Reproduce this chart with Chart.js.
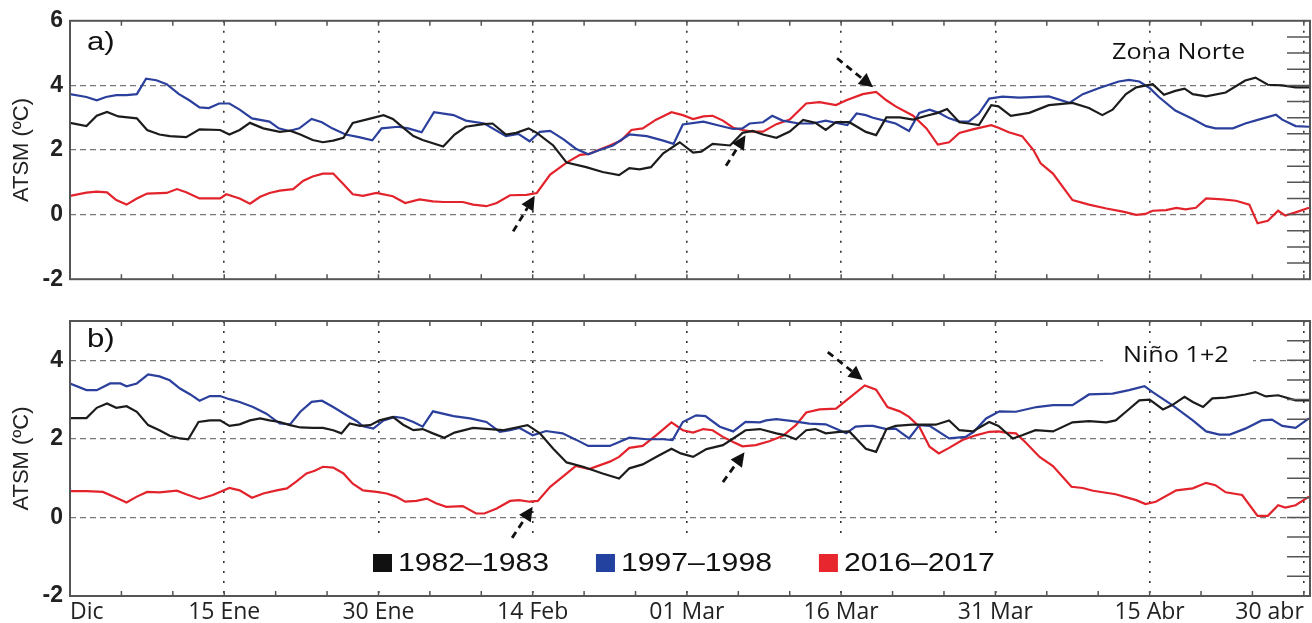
<!DOCTYPE html>
<html>
<head>
<meta charset="utf-8">
<script src="https://cdn.jsdelivr.net/npm/chart.js@4"></script>
<style>
  body { margin: 0; background: #fff; overflow: hidden; }
  canvas { position: absolute; left: 0; }
  #chartNorte { top: 0; }
  #chartNino { top: 300px; }
</style>
</head>
<body>
<canvas id="chartNorte" width="1312" height="300"></canvas>
<canvas id="chartNino" width="1312" height="323"></canvas>
<script>
// Days since start of the window (Dic) and their labels
const tickDays = [0, 15, 30, 45, 60, 75, 90, 105, 120];
const tickLabels = ["Dic", "15 Ene", "30 Ene", "14 Feb", "01 Mar", "16 Mar", "31 Mar", "15 Abr", "30 abr"];
const X_MAX = 120.6;

const seriesNames = ["1982–1983", "1997–1998", "2016–2017"];
const seriesColors = ["#1c1c1c", "#2b3f9c", "#e3232b"];
const legendColors = ["#111111", "#2342a0", "#e8262e"];

const yTicksNorte = [-2, 0, 2, 4, 6];
const yTicksNino = [-2, 0, 2, 4];

// [day, ATSM] read off panel a) Zona Norte
const norte8283 = [[0,2.84],[1.6,2.74],[2.6,3.06],[3.6,3.18],[4.7,3.04],[6.5,2.98],[7.5,2.62],[8.7,2.48],[9.7,2.43],[11.3,2.40],[12.6,2.64],[14.6,2.62],[15.5,2.48],[16.5,2.62],[17.5,2.84],[18.8,2.67],[20.4,2.56],[21.4,2.6],[22.4,2.48],[23.6,2.31],[24.6,2.24],[25.6,2.29],[26.6,2.38],[27.5,2.84],[28.8,2.94],[30.5,3.08],[31.4,2.96],[32.4,2.69],[33.4,2.43],[34.3,2.31],[36.3,2.11],[37.4,2.48],[38.5,2.72],[40.2,2.8],[41.1,2.82],[42.4,2.48],[43.4,2.53],[44.6,2.67],[45.4,2.53],[47.0,2.14],[48.3,1.61],[50.2,1.47],[51.8,1.32],[53.4,1.22],[54.4,1.44],[55.4,1.4],[56.5,1.47],[57.7,1.9],[59.3,2.24],[60.6,1.92],[61.4,1.95],[62.5,2.19],[64.2,2.14],[65.4,2.53],[66.4,2.59],[67.4,2.48],[68.7,2.38],[70.0,2.57],[71.3,2.93],[72.5,2.84],[73.5,2.62],[74.5,2.86],[75.8,2.86],[77.4,2.56],[78.4,2.46],[79.4,3.01],[80.7,3.01],[82.0,2.94],[83.3,3.06],[84.4,3.15],[85.3,3.27],[86.5,2.86],[87.4,2.82],[88.4,2.77],[89.6,3.39],[90.3,3.35],[91.5,3.06],[93.3,3.15],[95.2,3.39],[97.5,3.46],[99.1,3.3],[100.4,3.08],[101.4,3.25],[102.7,3.73],[103.7,3.94],[105.3,4.04],[106.4,3.71],[107.5,3.83],[108.4,3.9],[109.2,3.73],[110.5,3.66],[112.4,3.78],[114.3,4.15],[115.3,4.24],[116.5,4.02],[117.9,4.0],[119.2,3.94],[120.5,3.94]];
const norte9798 = [[0,3.73],[1.6,3.64],[2.6,3.54],[3.5,3.64],[4.5,3.7],[5.5,3.7],[6.5,3.73],[7.4,4.21],[8.4,4.16],[9.4,4.04],[10.6,3.73],[11.6,3.54],[12.6,3.32],[13.5,3.3],[14.5,3.44],[15.5,3.44],[16.5,3.25],[17.7,2.98],[19.4,2.88],[20.3,2.67],[21.3,2.59],[22.3,2.67],[23.5,2.96],[24.5,2.86],[25.5,2.67],[26.8,2.48],[28.1,2.4],[29.4,2.3],[30.3,2.67],[31.9,2.72],[32.9,2.67],[34.2,2.55],[35.4,3.17],[37.3,3.08],[38.5,2.91],[40.3,2.82],[42.4,2.43],[43.6,2.5],[44.7,2.27],[45.7,2.56],[46.7,2.59],[48.0,2.33],[49.2,2.04],[50.4,1.87],[51.5,2.0],[52.8,2.14],[54.4,2.48],[56.1,2.43],[57.7,2.29],[58.7,2.19],[59.6,2.79],[61.6,2.88],[63.2,2.75],[64.5,2.65],[65.4,2.67],[66.1,2.82],[67.4,2.86],[68.3,3.06],[69.3,2.91],[70.9,2.82],[72.2,2.82],[73.5,2.91],[74.8,2.82],[75.6,2.77],[76.5,3.13],[77.4,3.08],[78.1,3.0],[79.2,2.91],[80.3,2.82],[81.6,2.59],[82.6,3.15],[83.6,3.25],[84.5,3.15],[85.5,2.98],[86.5,2.88],[87.4,2.88],[88.4,3.13],[89.4,3.59],[90.7,3.65],[92.3,3.62],[95.2,3.66],[97.2,3.46],[98.5,3.73],[100.1,3.92],[102.0,4.12],[103.0,4.17],[104.0,4.12],[105.0,3.92],[105.9,3.64],[107.5,3.22],[109.2,2.96],[110.5,2.74],[111.4,2.67],[113.1,2.67],[114.3,2.82],[115.6,2.94],[117.3,3.09],[117.9,2.94],[119.2,2.74],[120.5,2.72]];
const norte1617 = [[0,0.58],[1.6,0.68],[2.6,0.71],[3.6,0.69],[4.5,0.45],[5.5,0.31],[6.5,0.5],[7.5,0.65],[9.4,0.67],[10.4,0.79],[11.3,0.69],[12.6,0.5],[14.6,0.5],[15.2,0.63],[16.5,0.5],[17.5,0.34],[18.5,0.55],[19.4,0.67],[20.4,0.74],[21.7,0.79],[22.7,1.05],[23.6,1.18],[24.6,1.27],[25.6,1.27],[26.6,0.94],[27.5,0.63],[28.5,0.58],[29.8,0.67],[31.4,0.57],[32.6,0.36],[34.0,0.47],[35.3,0.41],[36.3,0.39],[38.2,0.39],[39.2,0.31],[40.5,0.26],[41.5,0.36],[42.8,0.6],[44.4,0.61],[45.4,0.67],[46.7,1.24],[48.3,1.61],[49.6,1.85],[50.5,1.88],[52.5,2.14],[53.6,2.29],[54.6,2.62],[55.7,2.67],[57.0,2.94],[58.5,3.17],[59.6,3.08],[60.6,2.96],[61.6,3.04],[62.5,3.06],[63.5,2.91],[64.5,2.69],[65.4,2.62],[66.4,2.57],[67.4,2.57],[68.7,2.8],[70.0,2.94],[71.6,3.44],[72.9,3.48],[74.5,3.39],[75.5,3.54],[77.1,3.73],[78.4,3.8],[79.4,3.54],[80.3,3.35],[82.0,3.06],[83.3,2.67],[84.4,2.17],[85.5,2.24],[86.5,2.53],[87.8,2.64],[89.6,2.77],[90.3,2.69],[91.3,2.55],[92.6,2.43],[93.7,2.0],[94.4,1.59],[95.6,1.27],[97.5,0.45],[99.1,0.31],[100.8,0.19],[102.4,0.09],[103.7,-0.01],[104.6,0.02],[105.3,0.12],[106.6,0.14],[107.6,0.21],[108.5,0.16],[109.5,0.21],[110.5,0.5],[112.1,0.47],[113.4,0.43],[114.7,0.31],[115.5,-0.27],[116.5,-0.19],[117.5,0.12],[118.2,-0.03],[119.2,0.07],[120.5,0.21]];

// [day, ATSM] read off panel b) Niño 1+2
const nino8283 = [[0,2.53],[1.6,2.53],[2.6,2.79],[3.6,2.9],[4.5,2.79],[5.5,2.83],[6.5,2.69],[7.6,2.35],[8.7,2.22],[9.7,2.08],[10.7,2.01],[11.5,1.99],[12.5,2.43],[13.6,2.47],[14.6,2.47],[15.5,2.33],[16.5,2.37],[17.5,2.47],[18.5,2.52],[19.4,2.47],[20.4,2.43],[21.4,2.35],[22.4,2.29],[23.6,2.28],[24.6,2.28],[25.6,2.22],[26.4,2.14],[27.2,2.39],[28.2,2.33],[29.2,2.35],[30.1,2.47],[31.4,2.56],[32.4,2.36],[33.4,2.22],[34.3,2.25],[35.3,2.14],[36.4,2.03],[37.4,2.16],[39.2,2.28],[40.8,2.25],[42.1,2.22],[43.4,2.29],[44.5,2.35],[45.7,2.14],[47.0,1.75],[48.3,1.40],[49.9,1.29],[51.8,1.12],[53.4,0.99],[54.4,1.25],[55.7,1.35],[57.0,1.54],[58.5,1.75],[59.4,1.63],[60.6,1.54],[61.9,1.74],[63.5,1.84],[64.5,2.01],[65.7,2.22],[67.1,2.25],[68.7,2.14],[69.6,2.09],[70.6,1.99],[71.6,2.22],[72.5,2.25],[73.5,2.14],[74.8,2.18],[75.8,2.19],[77.4,1.75],[78.4,1.67],[79.4,2.25],[80.3,2.33],[81.9,2.36],[84.2,2.36],[85.5,2.47],[86.5,2.22],[87.8,2.19],[89.4,2.43],[90.3,2.33],[91.7,2.01],[92.6,2.09],[93.9,2.22],[95.6,2.19],[97.5,2.42],[99.1,2.45],[100.8,2.42],[101.7,2.47],[102.7,2.69],[104.0,2.98],[105.0,3.0],[106.3,2.75],[107.2,2.86],[108.4,3.07],[109.2,2.94],[110.2,2.81],[111.1,3.03],[112.4,3.05],[114.3,3.13],[115.3,3.19],[116.3,3.08],[117.5,3.11],[119.2,2.98],[120.5,2.98]];
const nino9798 = [[0,3.41],[1.6,3.24],[2.6,3.24],[3.9,3.41],[4.9,3.41],[5.5,3.34],[6.5,3.41],[7.6,3.64],[8.7,3.59],[9.7,3.49],[10.7,3.28],[11.7,3.13],[12.6,2.97],[13.6,3.09],[14.6,3.09],[15.5,3.01],[16.5,2.94],[17.8,2.81],[19.1,2.64],[20.4,2.39],[21.4,2.37],[22.4,2.69],[23.5,2.94],[24.5,2.97],[25.6,2.81],[26.9,2.6],[27.9,2.45],[28.5,2.32],[29.5,2.26],[30.5,2.47],[31.6,2.56],[32.4,2.53],[33.4,2.43],[34.3,2.31],[35.3,2.70],[37.3,2.58],[38.9,2.52],[40.5,2.43],[41.8,2.18],[42.8,2.22],[43.7,2.28],[45.0,2.09],[46.3,2.2],[47.9,2.14],[49.2,1.98],[50.4,1.82],[52.5,1.82],[54.4,2.03],[56.1,1.99],[57.7,1.99],[58.6,1.97],[59.6,2.43],[60.9,2.6],[61.8,2.58],[63.2,2.31],[64.5,2.19],[65.7,2.43],[67.1,2.42],[67.7,2.47],[68.7,2.5],[70.3,2.45],[71.9,2.39],[73.5,2.37],[74.5,2.26],[75.5,2.14],[76.4,2.31],[77.4,2.33],[78.1,2.33],[79.4,2.25],[80.3,2.26],[81.6,2.01],[82.6,2.35],[83.6,2.33],[85.5,2.01],[87.1,2.05],[87.9,2.18],[89.1,2.52],[90.4,2.7],[92.0,2.69],[94.0,2.81],[95.6,2.86],[97.5,2.86],[99.1,3.13],[101.4,3.15],[103.0,3.24],[104.5,3.34],[105.3,3.19],[107.2,2.86],[109.2,2.47],[110.5,2.19],[111.8,2.11],[112.8,2.11],[114.3,2.26],[115.9,2.47],[116.9,2.49],[117.9,2.33],[119.2,2.28],[120.5,2.52]];
const nino1617 = [[0,0.67],[1.6,0.67],[3.2,0.65],[4.5,0.5],[5.5,0.38],[6.5,0.53],[7.5,0.65],[8.7,0.64],[10.4,0.68],[11.3,0.59],[12.6,0.47],[13.9,0.57],[15.5,0.75],[16.5,0.69],[17.7,0.5],[18.8,0.61],[20.1,0.69],[21.1,0.74],[22.0,0.91],[23.0,1.12],[23.8,1.19],[24.6,1.29],[25.6,1.27],[26.6,1.12],[27.5,0.86],[28.5,0.69],[29.8,0.65],[30.8,0.61],[31.7,0.53],[32.6,0.4],[33.7,0.42],[34.7,0.48],[35.6,0.36],[36.6,0.27],[38.2,0.29],[39.5,0.1],[40.3,0.1],[41.5,0.23],[42.8,0.42],[43.7,0.44],[44.7,0.4],[45.5,0.42],[46.7,0.78],[47.9,1.03],[49.2,1.31],[50.5,1.23],[52.5,1.42],[53.4,1.54],[54.4,1.77],[55.7,1.82],[57.0,2.09],[58.5,2.42],[59.6,2.22],[60.6,2.16],[61.6,2.25],[62.5,2.22],[63.5,2.05],[64.5,1.92],[65.4,1.81],[66.7,1.84],[68.0,1.94],[69.3,2.07],[70.6,2.35],[71.6,2.67],[72.9,2.75],[74.5,2.77],[75.5,2.98],[77.3,3.36],[78.4,3.25],[79.5,2.81],[80.7,2.7],[81.6,2.56],[82.6,2.31],[83.6,1.8],[84.5,1.63],[85.5,1.77],[86.8,1.97],[88.1,2.09],[89.4,2.18],[90.3,2.19],[91.0,2.16],[92.0,2.14],[92.9,1.92],[94.3,1.54],[95.6,1.31],[97.4,0.78],[98.5,0.75],[99.5,0.68],[101.7,0.59],[103.7,0.44],[104.6,0.34],[105.6,0.4],[107.6,0.69],[109.2,0.74],[110.5,0.88],[111.4,0.82],[112.4,0.64],[114.0,0.57],[115.5,0.04],[116.5,0.04],[117.5,0.31],[118.2,0.25],[119.2,0.31],[120.5,0.53]];

// Dashed arrows, [dayTail, valueTail, dayTip, valueTip]
const arrowsNorte = [[43.1,-0.52,45.2,0.58],[63.8,1.51,65.7,2.46],[74.6,4.84,78.1,3.94]];
const arrowsNino = [[43.0,-0.52,45.0,0.27],[63.5,0.90,65.6,1.66],[73.7,4.21,77.1,3.50]];

const TEXT_STRETCH = 1.2; // the original figure is stretched horizontally

function stretchedText(ctx, text, x, y, sx) {
  ctx.save();
  ctx.translate(x, y);
  ctx.scale(sx, 1);
  ctx.fillText(text, 0, 0);
  ctx.restore();
}

function drawArrow(ctx, x0, y0, x1, y1) {
  const ang = Math.atan2(y1 - y0, x1 - x0);
  const headLen = 14;
  const bx = x1 - headLen * Math.cos(ang);
  const by = y1 - headLen * Math.sin(ang);
  ctx.setLineDash([7, 5]);
  ctx.lineWidth = 2.8;
  ctx.strokeStyle = "#111";
  ctx.beginPath();
  ctx.moveTo(x0, y0);
  ctx.lineTo(bx, by);
  ctx.stroke();
  ctx.setLineDash([]);
  ctx.fillStyle = "#111";
  ctx.beginPath();
  ctx.moveTo(x1, y1);
  ctx.lineTo(bx + 7 * Math.sin(ang), by - 7 * Math.cos(ang));
  ctx.lineTo(bx - 7 * Math.sin(ang), by + 7 * Math.cos(ang));
  ctx.closePath();
  ctx.fill();
}

// Frame, inner ticks, panel labels, arrows and legend
const decorPlugin = {
  id: "decor",
  beforeDatasetsDraw(chart, args, opts) {
    const { ctx, chartArea: a } = chart;
    ctx.save();
    ctx.fillStyle = "#fff";
    if (opts.regionBox) {
      ctx.fillRect(a.right - 207, a.top + 24, 150, 26);
    }
    if (opts.legend) {
      ctx.fillRect(365, a.bottom - 56, 640, 44);
    }
    ctx.restore();
  },
  afterDatasetsDraw(chart, args, opts) {
    const { ctx, chartArea: a, scales: { x, y } } = chart;
    ctx.save();
    ctx.strokeStyle = "#555";
    ctx.lineWidth = 1.5;
    ctx.setLineDash([]);
    ctx.beginPath();
    for (let d = 5; d <= 120; d += 5) {
      const px = x.getPixelForValue(d);
      ctx.moveTo(px, a.top);
      ctx.lineTo(px, a.top + 5);
      ctx.moveTo(px, a.bottom - 5);
      ctx.lineTo(px, a.bottom);
    }
    for (let v = y.min + 0.5; v < y.max; v += 0.5) {
      const py = y.getPixelForValue(v);
      ctx.moveTo(a.right - 23, py);
      ctx.lineTo(a.right, py);
    }
    ctx.stroke();
    ctx.strokeStyle = "#555";
    ctx.lineWidth = 2;
    ctx.strokeRect(a.left, a.top, a.right - a.left, a.bottom - a.top);

    opts.arrows.forEach(([d0, v0, d1, v1]) => {
      drawArrow(ctx, x.getPixelForValue(d0), y.getPixelForValue(v0),
        x.getPixelForValue(d1), y.getPixelForValue(v1));
    });

    ctx.fillStyle = "#111";
    ctx.textBaseline = "middle";
    ctx.textAlign = "left";
    ctx.font = "26px 'Liberation Sans'";
    stretchedText(ctx, opts.panel, a.left + 17, a.top + opts.panelDy, TEXT_STRETCH);
    ctx.font = "21px 'Open Sans'";
    stretchedText(ctx, opts.region, opts.regionX, a.top + opts.regionDy, TEXT_STRETCH);

    if (opts.legend) {
      ctx.font = "26px 'Liberation Sans'";
      let lx = 373;
      const ly = a.bottom - 33;
      seriesNames.forEach((name, i) => {
        ctx.fillStyle = legendColors[i];
        ctx.fillRect(lx, ly - 9, 19, 18);
        ctx.fillStyle = "#111";
        stretchedText(ctx, name, lx + 25, ly + 1, 1.16);
        lx += 25 + ctx.measureText(name).width * 1.16 + 47;
      });
    }
    ctx.restore();
  },
};

function makePanel(canvasId, series, yTicks, yMax, padTop, xHeight, showX, decor) {
  return new Chart(document.getElementById(canvasId), {
    type: "line",
    data: {
      datasets: series.map((s, i) => ({
        label: seriesNames[i],
        data: s.map(([d, v]) => ({ x: d, y: v })),
        borderColor: seriesColors[i],
        borderWidth: 2.2,
        pointRadius: 0,
        tension: 0,
        fill: false,
      })),
    },
    options: {
      responsive: false,
      animation: false,
      devicePixelRatio: 1,
      layout: { padding: { top: padTop, right: 2, left: 0, bottom: 0 } },
      plugins: {
        legend: { display: false },
        tooltip: { enabled: false },
        decor,
      },
      scales: {
        x: {
          type: "linear",
          min: 0,
          max: X_MAX,
          afterBuildTicks: (s) => { s.ticks = tickDays.map((v) => ({ value: v })); },
          afterFit: (s) => { s.height = xHeight; },
          ticks: {
            display: showX,
            autoSkip: false,
            maxRotation: 0,
            align: "inner",
            padding: 3,
            color: "#222",
            font: { family: "'Open Sans'", size: 23 },
            callback: (v, i) => tickLabels[i],
          },
          grid: {
            drawTicks: false,
            lineWidth: 1.6,
            color: (c) => (c.tick && c.tick.value > 0 ? "#333" : "rgba(0,0,0,0)"),
          },
          border: { display: false, dash: [2, 8] },
        },
        y: {
          min: -2,
          max: yMax,
          afterBuildTicks: (s) => { s.ticks = yTicks.map((v) => ({ value: v })); },
          afterFit: (s) => { s.width = 70; },
          ticks: {
            padding: 7,
            color: "#222",
            font: { family: "'Liberation Sans'", size: 23, weight: "bold" },
          },
          title: {
            display: true,
            text: "ATSM (ºC)",
            color: "#222",
            padding: { top: 9, bottom: 0 },
            font: { family: "'Liberation Sans'", size: 22 },
          },
          grid: {
            drawTicks: false,
            lineWidth: 1.2,
            color: (c) => (c.tick && c.tick.value >= 0 && c.tick.value <= 4 ? "#777" : "rgba(0,0,0,0)"),
          },
          border: { display: false, dash: [6, 4] },
        },
      },
    },
    plugins: [decorPlugin],
  });
}

makePanel("chartNorte", [norte8283, norte9798, norte1617], yTicksNorte, 6, 18, 6, false, {
  panel: "a)", panelDy: 22,
  region: "Zona Norte", regionX: 1112, regionDy: 32,
  regionBox: false, legend: false, arrows: arrowsNorte,
});

makePanel("chartNino", [nino8283, nino9798, nino1617], yTicksNino, 5, 21, 27, true, {
  panel: "b)", panelDy: 19,
  region: "Niño 1+2", regionX: 1123, regionDy: 35,
  regionBox: true, legend: true, arrows: arrowsNino,
});
</script>
</body>
</html>
